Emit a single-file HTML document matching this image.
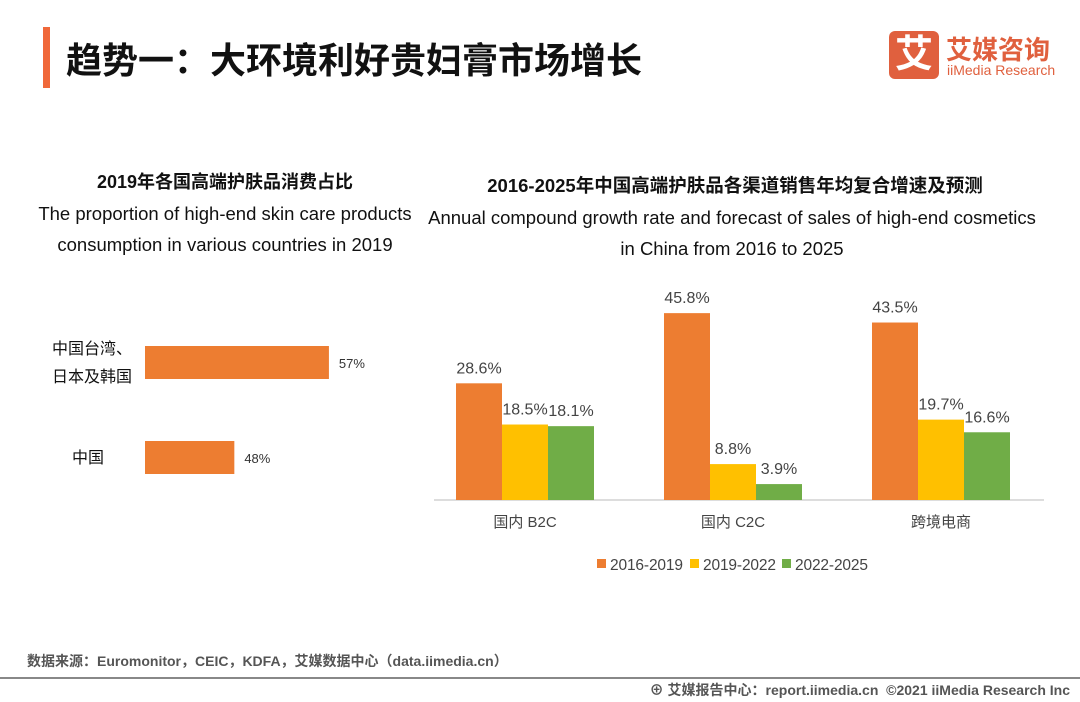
<!DOCTYPE html>
<html><head><meta charset="utf-8"><style>
body{margin:0;width:1080px;height:702px;background:#fff;font-family:"Liberation Sans","Noto Sans CJK SC",sans-serif;overflow:hidden;position:relative}
.a{position:absolute;white-space:nowrap}
</style></head><body>
<div class="a" style="left:43px;top:27px;width:7px;height:61px;background:#f0683a"></div>
<div class="a" style="left:66px;top:32px;font-size:36px;font-weight:bold;color:#111">趋势一：大环境利好贵妇膏市场增长</div>
<div class="a" style="left:889px;top:31px;width:50px;height:48px;background:#e0603e;border-radius:6px;color:#fff;font-size:38px;font-weight:bold;text-align:center;line-height:48px">艾</div>
<div class="a" style="left:946px;top:30px;font-size:26px;font-weight:bold;color:#e0603e">艾媒咨询</div>
<div class="a" style="left:947px;top:62px;font-size:14px;color:#e0603e">iiMedia Research</div>

<div class="a" style="left:0;width:450px;top:168px;text-align:center;font-size:18px;font-weight:bold;color:#111">2019年各国高端护肤品消费占比</div>
<div class="a" style="left:0;width:450px;top:198px;text-align:center;font-size:18.5px;line-height:31px;color:#111;white-space:normal">The proportion of high-end skin care products<br>consumption in various countries in 2019</div>
<div class="a" style="left:420px;width:630px;top:172px;text-align:center;font-size:18.5px;font-weight:bold;color:#111">2016-2025年中国高端护肤品各渠道销售年均复合增速及预测</div>
<div class="a" style="left:420px;width:624px;top:202px;text-align:center;font-size:18.5px;line-height:31px;color:#111;white-space:normal">Annual compound growth rate and forecast of sales of high-end cosmetics<br>in China from 2016 to 2025</div>

<svg class="a" style="left:0;top:0" width="1080" height="702"><g id="left"></g><g id="right"></g></svg>

<div class="a" style="left:27px;top:651px;font-size:14px;font-weight:bold;color:#555">数据来源：Euromonitor，CEIC，KDFA，艾媒数据中心（data.iimedia.cn）</div>
<div class="a" style="left:0;top:677px;width:1080px;height:2px;background:#888"></div>
<div class="a" style="right:10px;top:680px;font-size:14px;font-weight:bold;color:#555">⊕ 艾媒报告中心：report.iimedia.cn &nbsp;©2021 iiMedia Research Inc</div>

<script>
const NS='http://www.w3.org/2000/svg';
function mk(p,t,a,txt){const e=document.createElementNS(NS,t);for(const k in a)e.setAttribute(k,a[k]);if(txt!=null)e.textContent=txt;p.appendChild(e);return e;}
// left chart data
const leftCats=[['中国台湾、','日本及韩国'],['中国']];
const leftVals=[57,48];
const L=document.getElementById('left');
const lx=v=>145+(v-39.5)*10.51;
const lyTop=[346,441];
leftVals.forEach((v,i)=>{
 const r=mk(L,'rect',{x:145,y:lyTop[i],width:lx(v)-145,height:33,fill:'#ed7d31'});
 
 
 const t=mk(L,'text',{x:lx(v)+10,y:lyTop[i]+22,'font-size':13,fill:'#333'},v+'%');
 
 
 const c=leftCats[i];
 c.forEach((s,j)=>{const y=lyTop[i]+17+(j-(c.length-1)/2)*28+5;
  const tt=mk(L,'text',{x:c.length>1?92:88,y:y,'font-size':16,fill:'#111','text-anchor':'middle'},s);
  
  });
});
// right chart data
const cats=['国内 B2C','国内 C2C','跨境电商'];
const series=['2016-2019','2019-2022','2022-2025'];
const s1=[28.6,45.8,43.5];
const s2=[18.5,8.8,19.7];
const s3=[18.1,3.9,16.6];
const colors=['#ed7d31','#ffc000','#70ad47'];
const R=document.getElementById('right');
const base=500, k=4.08, g0=456, gw=208, bw=46;
const y=v=>base-v*k;
const ax=mk(R,'line',{x1:434,x2:1044,y1:base,y2:base,stroke:'#bbb','stroke-width':1});


[s1,s2,s3].forEach((s,si)=>{
 s.forEach((v,i)=>{
  const bx=g0+gw*i+si*bw;
  const r=mk(R,'rect',{x:bx,y:y(v),width:bw,height:v*k,fill:colors[si]});
  
  
  const t=mk(R,'text',{x:bx+bw/2,y:y(v)-10,'font-size':16,fill:'#444','text-anchor':'middle'},v.toFixed(1)+'%');
  
  
 });
});
cats.forEach((c,i)=>{
 const cx=g0+gw*i+bw*1.5;
 const t=mk(R,'text',{x:cx,y:527,'font-size':15,fill:'#444','text-anchor':'middle'},c);
 
 
});
const lgx=[597,690,782];
series.forEach((s,i)=>{
 const r=mk(R,'rect',{x:lgx[i],y:559,width:9,height:9,fill:colors[i]});
 
 
 const t=mk(R,'text',{x:lgx[i]+13,y:570,'font-size':15.5,fill:'#444',textLength:73},s);
 
 
});
</script>
</body></html>
